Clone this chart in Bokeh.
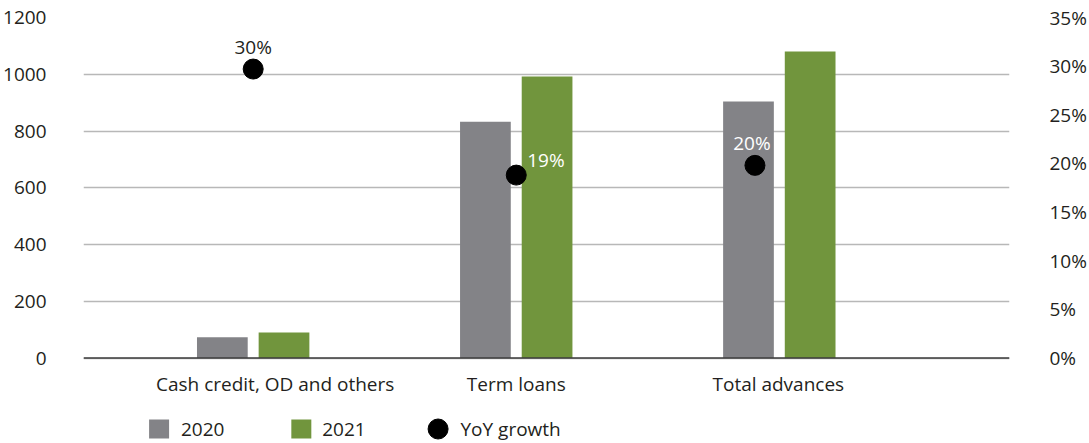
import numpy as np
from bokeh.plotting import figure
from bokeh.models import Range1d, LinearAxis, FixedTicker, Span, ColumnDataSource
from bokeh.embed import file_html
from bokeh.resources import INLINE
from bokeh.core.properties import value

# ---------------- data ----------------
categories = ["Cash credit, OD and others", "Term loans", "Total advances"]
values_2020 = [73, 833, 904]
values_2021 = [90, 992, 1080]
yoy_growth = [29.7, 18.8, 19.8]
series_names = ["2020", "2021", "YoY growth"]
left_ticks = [0, 200, 400, 600, 800, 1000, 1200]
right_ticks = [0, 5, 10, 15, 20, 25, 30, 35]

# ---------------- style / layout ----------------
FONT = "Open Sans"
FS = "19px"
TXT = "#231f20"
GREY = "#838387"
GREEN = "#71953d"
W, H = 1089, 443
BL, BR, BT = 82, 76, 17
FRAME_W = W - BL - BR
FRAME_H = H - BT
VAL_H = 340.5                  # pixels used by 0..1200
YMAX, PMAX = 1200, 35
UPP = YMAX / VAL_H             # value units per pixel
below_px = FRAME_H - VAL_H     # pixels below the zero line inside frame
Y0 = -below_px * UPP
P0 = Y0 * PMAX / YMAX

X0, X1 = -0.645, 2.875
XPP = (X1 - X0) / FRAME_W      # x units per pixel

def fx(px):
    return X0 + px * XPP

def fy(px_below_zero):
    return -px_below_zero * UPP

idx = np.arange(len(categories), dtype=float)
bar_w = 51 * XPP
bar_off = 31 * XPP

p = figure(width=W, height=H, output_backend="svg", toolbar_location=None,
           x_range=Range1d(X0, X1), y_range=Range1d(Y0, YMAX),
           min_border_left=BL, min_border_right=BR, min_border_top=BT,
           min_border_bottom=0, x_axis_type=None)
p.extra_y_ranges = {"pct": Range1d(P0, PMAX)}
p.outline_line_color = None
p.background_fill_color = "white"

# grid & baseline
p.xgrid.visible = False
p.ygrid.ticker = FixedTicker(ticks=left_ticks)
p.ygrid.grid_line_color = "#b8b8b8"
p.ygrid.grid_line_width = 1.5

p.vbar(x=idx - bar_off, top=values_2020, width=bar_w, fill_color=GREY, line_color=None)
p.vbar(x=idx + bar_off, top=values_2021, width=bar_w, fill_color=GREEN, line_color=None)
p.add_layout(Span(location=0, dimension="width", line_color="#3d3d3d", line_width=1.6))

dot_shift = np.array([0.0, 0.0, -24.5 * XPP])
p.scatter(x=idx + dot_shift, y=yoy_growth, size=20, color="black", y_range_name="pct")

lab = ColumnDataSource(dict(
    x=idx + dot_shift,
    y=yoy_growth,
    text=[f"{round(v)}%" for v in yoy_growth],
    color=[TXT, "white", "white"],
    align=["center", "left", "center"],
    xo=[0, 11, -3],
    yo=[-22, -15, -22],
))
p.text(x="x", y="y", text="text", source=lab, y_range_name="pct",
       text_font=value(FONT), text_font_size=FS, text_color="color",
       text_align="align", text_baseline="middle", x_offset="xo", y_offset="yo")

# category labels (x axis)
cat_src = ColumnDataSource(dict(x=idx, y=[fy(25.5)] * len(idx), text=categories,
                                xo=[22, 0, -1]))
p.text(x="x", y="y", text="text", source=cat_src, x_offset="xo",
       text_font=value(FONT), text_font_size=FS, text_color=TXT,
       text_align="center", text_baseline="middle")

# left axis
ya = p.yaxis[0]
ya.ticker = FixedTicker(ticks=left_ticks)
ya.axis_line_color = None
ya.major_tick_line_color = None
ya.minor_tick_line_color = None
ya.major_label_standoff = 31
ya.major_label_text_font = FONT
ya.major_label_text_font_size = FS
ya.major_label_text_color = TXT

# right axis
ra = LinearAxis(y_range_name="pct", ticker=FixedTicker(ticks=right_ticks),
                major_label_overrides={t: f"{t}%" for t in right_ticks})
ra.axis_line_color = None
ra.major_tick_line_color = None
ra.minor_tick_line_color = None
ra.major_label_standoff = 34
ra.major_label_text_font = FONT
ra.major_label_text_font_size = FS
ra.major_label_text_color = TXT
p.add_layout(ra, "right")

# legend (drawn inside the frame, below the category labels)
ly = fy(71)
sw_px = [76, 219]
p.rect(x=[fx(v) for v in sw_px], y=[ly, ly], width=20, height=19,
       width_units="screen", height_units="screen",
       fill_color=[GREY, GREEN], line_color=None)
dot_px = 356.5
p.scatter(x=[fx(dot_px)], y=[ly], size=20, color="black")
p.text(x=[fx(sw_px[0] + 22), fx(sw_px[1] + 21), fx(dot_px + 22.5)], y=[ly] * 3,
       text=series_names, text_font=value(FONT), text_font_size=FS,
       text_color=TXT, text_align="left", text_baseline="middle")

open("out.html", "w").write(file_html(p, INLINE))
